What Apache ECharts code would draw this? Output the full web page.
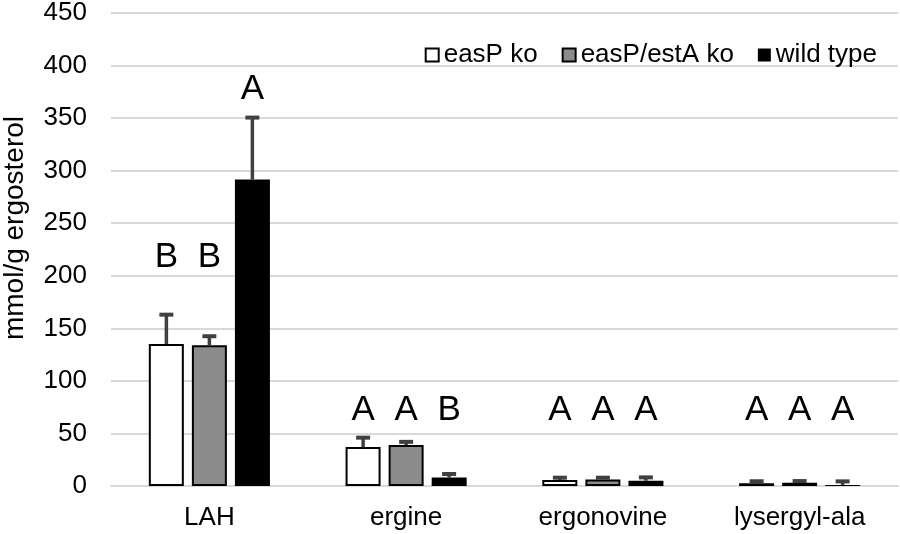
<!DOCTYPE html>
<html>
<head>
<meta charset="utf-8">
<script src="https://cdn.jsdelivr.net/npm/echarts@6/dist/echarts.min.js"></script>
<style>
  html, body { margin: 0; padding: 0; background: #fff; }
  #chart { width: 900px; height: 534px; }
</style>
</head>
<body>
<div id="chart"></div>
<script>
// data
var categories = ["LAH", "ergine", "ergonovine", "lysergyl-ala"];
var easP = [135, 37, 5.7, 2.5];
var easPErr = [28, 9, 2.2, 2];
var easPestA = [134, 39, 6.3, 3.1];
var easPestAErr = [8.5, 3, 1.6, 1.6];
var wildType = [291.5, 8, 5, 1];
var wildTypeErr = [59, 3.4, 3.2, 3.4];
var lettersEasP = ["B", "A", "A", "A"];
var lettersEasPestA = ["B", "A", "A", "A"];
var lettersWild = ["A", "B", "A", "A"];
// height (in axis units) where each letter sits
var letterLevelEasP = [218, 72, 72, 72];
var letterLevelEasPestA = [218, 72, 72, 72];
var letterLevelWild = [377, 72, 72, 72];

var FONT = "Liberation Sans, Arial, sans-serif";
var barW = 35;
var step = 43; // bar width + gap
var offsets = [-step, 0, step];

function errorSeries(vals, errs, idx) {
  return {
    type: "custom",
    z: 5,
    renderItem: function (params, api) {
      var c = api.value(0);
      var base = api.coord([c, api.value(1)]);
      var top = api.coord([c, api.value(1) + api.value(2)]);
      var x = base[0] + offsets[idx];
      return {
        type: "group",
        children: [
          { type: "line", shape: { x1: x, y1: base[1], x2: x, y2: top[1] }, style: { stroke: "#404040", lineWidth: 3.5 } },
          { type: "line", shape: { x1: x - 7, y1: top[1], x2: x + 7, y2: top[1] }, style: { stroke: "#404040", lineWidth: 4 } }
        ]
      };
    },
    data: vals.map(function (v, i) { return [i, v, errs[i]]; })
  };
}

function letterSeries(letters, levels, idx) {
  return {
    type: "custom",
    z: 6,
    renderItem: function (params, api) {
      var i = params.dataIndex;
      var p = api.coord([api.value(0), api.value(1)]);
      return {
        type: "text",
        style: {
          text: letters[i],
          x: p[0] + offsets[idx],
          y: p[1],
          fill: "#000",
          fontSize: 35,
          fontFamily: FONT,
          align: "center",
          verticalAlign: "middle",
          textAlign: "center",
          textVerticalAlign: "middle"
        }
      };
    },
    data: levels.map(function (v, i) { return [i, v]; })
  };
}

var myChart = echarts.init(document.getElementById("chart"));
var option = {
  backgroundColor: "#fff",
  animation: false,
  textStyle: { fontFamily: FONT },
  grid: { left: 111, right: 2, top: 11, bottom: 48 },
  graphic: [
    {
      type: "text",
      x: 15,
      y: 228,
      rotation: Math.PI / 2,
      style: {
        text: "mmol/g ergosterol",
        fill: "#000",
        fontSize: 28,
        fontFamily: FONT,
        align: "center",
        verticalAlign: "middle"
      }
    }
  ],
  legend: {
    data: ["easP ko", "easP/estA ko", "wild type"],
    icon: "rect",
    top: 37,
    right: 18,
    itemWidth: 13,
    itemHeight: 13,
    itemGap: 24,
    textStyle: { fontSize: 26, color: "#000", fontFamily: FONT }
  },
  xAxis: {
    type: "category",
    data: categories,
    axisLine: { lineStyle: { color: "#d9d9d9", width: 2 } },
    axisTick: { show: false },
    axisLabel: { fontSize: 26, color: "#000", margin: 19, fontFamily: FONT }
  },
  yAxis: {
    type: "value",
    min: 0,
    max: 450,
    interval: 50,
    axisLine: { show: false },
    axisTick: { show: false },
    axisLabel: { fontSize: 26, color: "#000", margin: 24, fontFamily: FONT },
    splitLine: { lineStyle: { color: "#d9d9d9", width: 2 } }
  },
  series: [
    {
      name: "easP ko",
      type: "bar",
      barWidth: barW,
      barGap: "23%",
      data: easP,
      itemStyle: { color: "#fff", borderColor: "#000", borderWidth: 2 }
    },
    {
      name: "easP/estA ko",
      type: "bar",
      barWidth: barW,
      barGap: "23%",
      data: easPestA,
      itemStyle: { color: "#8c8c8c", borderColor: "#000", borderWidth: 2 }
    },
    {
      name: "wild type",
      type: "bar",
      barWidth: barW,
      barGap: "23%",
      data: wildType,
      itemStyle: { color: "#000", borderColor: "#000", borderWidth: 0 }
    },
    errorSeries(easP, easPErr, 0),
    errorSeries(easPestA, easPestAErr, 1),
    errorSeries(wildType, wildTypeErr, 2),
    letterSeries(lettersEasP, letterLevelEasP, 0),
    letterSeries(lettersEasPestA, letterLevelEasPestA, 1),
    letterSeries(lettersWild, letterLevelWild, 2)
  ]
};
myChart.setOption(option);
</script>
</body>
</html>
